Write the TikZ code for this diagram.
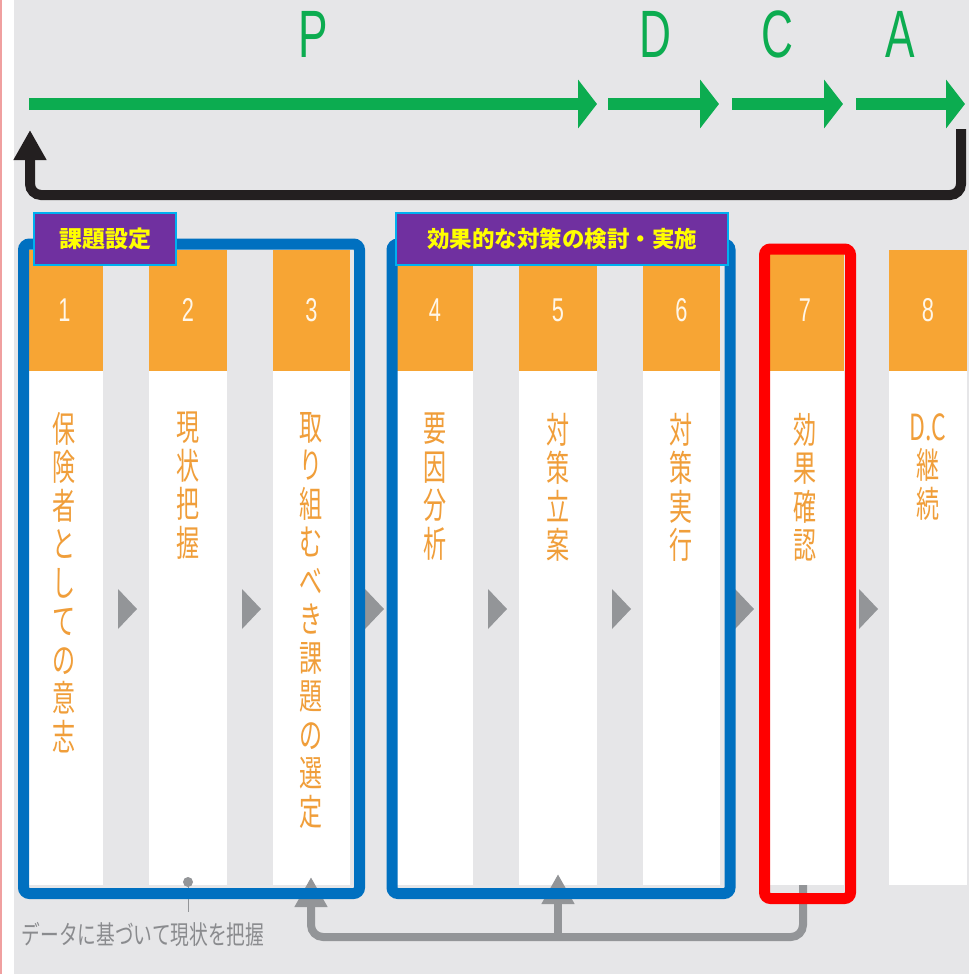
\documentclass[tikz,border=0pt]{standalone}
\usepackage{fontspec}
\usetikzlibrary{arrows.meta}
\newfontfamily\cjk{Noto Sans CJK JP}
\newfontfamily\cjkn[FakeStretch=0.64]{Noto Sans CJK JP}
\newfontfamily\cjkc[FakeStretch=0.72]{Noto Sans CJK JP}
\newfontfamily\latn[FakeStretch=0.66]{Liberation Sans}
\definecolor{bg}{RGB}{230,230,232}
\definecolor{grn}{RGB}{12,172,80}
\definecolor{blk}{RGB}{35,31,32}
\definecolor{orng}{RGB}{247,165,52}
\definecolor{otxt}{RGB}{240,158,58}
\definecolor{gry}{RGB}{147,149,152}
\definecolor{gtxt}{RGB}{138,139,142}
\definecolor{blu}{RGB}{0,112,192}
\definecolor{prp}{RGB}{112,48,160}
\definecolor{cyn}{RGB}{0,176,240}
\definecolor{ylw}{RGB}{255,255,0}
\definecolor{cream}{RGB}{255,246,232}
\definecolor{pnk}{RGB}{240,160,160}
\tikzset{
  pdca/.style={text=grn, font=\latn\fontsize{67}{67}\selectfont, inner sep=0pt},
  greenarrow/.style={draw=grn, line width=12pt, -{Triangle[length=19pt,width=48pt]}},
  backarrow/.style={draw=blk, line width=10pt, rounded corners=11pt, -{Triangle[length=30pt,width=31pt]}},
  grayarrow/.style={draw=gry, line width=8pt, rounded corners=12pt, -{Triangle[length=30pt,width=31pt]}},
  numtext/.style={text=cream, font=\latn\fontsize{33}{33}\selectfont, inner sep=0pt},
  coltext/.style={text=otxt, font=\cjkn\fontsize{36}{38.5}\selectfont, align=center, inner sep=0pt, anchor=north},
  groupbox/.style={draw=blu, line width=11pt, rounded corners=6pt},
  checkbox/.style={draw=red, line width=11pt, rounded corners=6pt},
  grouplabel/.style={fill=prp, draw=cyn, line width=2pt, text=ylw, inner sep=0pt, font=\cjk\bfseries\fontsize{23}{23}\selectfont},
  chev/.style={fill=gry},
  note/.style={text=gtxt, font=\cjkc\fontsize{26}{26}\selectfont, inner sep=0pt}
}
\begin{document}
\begin{tikzpicture}[x=1pt,y=-1pt]
\useasboundingbox (0,0) rectangle (969,974);
\fill[bg] (0,0) rectangle (969,974);
\fill[white] (2,0) rectangle (14,974);
\fill[pnk] (0,0) rectangle (2,974);

% PDCA letters
\node[pdca] (P) at (313,34) {P};
\node[pdca] (D) at (655,34) {D};
\node[pdca] (C) at (777,34) {C};
\node[pdca] (A) at (900,34) {A};

% green arrows
\coordinate (g1s) at (29,104);  \coordinate (g1e) at (597,104);
\coordinate (g2s) at (608,104); \coordinate (g2e) at (719,104);
\coordinate (g3s) at (732,104); \coordinate (g3e) at (843,104);
\coordinate (g4s) at (856,104); \coordinate (g4e) at (965,104);
\draw[greenarrow] (g1s) -- (g1e);
\draw[greenarrow] (g2s) -- (g2e);
\draw[greenarrow] (g3s) -- (g3e);
\draw[greenarrow] (g4s) -- (g4e);

% black return arrow
\coordinate (bs) at (961,129);
\coordinate (be) at (30,130);
\draw[backarrow] (bs) -- (961,195) -- (30,195) -- (be);

% columns
\foreach \l/\r [count=\i] in {26/103,149/227,273/350,397/473,519/597,643/720,766/844,889/967} {
  \fill[white] (\l,370) rectangle (\r,885);
  \fill[orng] (\l,250) rectangle (\r,371);
  \node[numtext] (n\i) at ({(\l+\r)/2},310) {\i};
}

% chevrons
\foreach \r in {103,227,350,473,597,720,844} {
  \fill[chev] (\r+15,589) -- (\r+34,609) -- (\r+15,629) -- cycle;
}

% column texts
\node[coltext] (t1) at (64.5,412) {保\\険\\者\\と\\し\\て\\の\\意\\志};
\node[coltext] (t2) at (188,412) {現\\状\\把\\握};
\node[coltext] (t3) at (311.5,412) {取\\り\\組\\む\\べ\\き\\課\\題\\の\\選\\定};
\node[coltext] (t4) at (435,413) {要\\因\\分\\析};
\node[coltext] (t5) at (558,413) {対\\策\\立\\案};
\node[coltext] (t6) at (681.5,413) {対\\策\\実\\行};
\node[coltext] (t7) at (805,413) {効\\果\\確\\認};
\node[coltext] (t8) at (928,413) {D.C\\継\\続};

% gray feedback arrows
\coordinate (fs) at (803,885);
\coordinate (f3) at (311,877);
\coordinate (fj) at (558,937);
\coordinate (f5) at (558,874);
\draw[grayarrow] (fs) -- (803,937) -- (311,937) -- (f3);
\draw[grayarrow, rounded corners=0pt] (fj) -- (f5);

% data note
\fill[gry] (188,882) circle (5pt);
\coordinate (dot) at (188,882);
\coordinate (dotend) at (188,912);
\draw[gry, line width=1pt] (dot) -- (dotend);
\node[note] (nt) at (143,935) {データに基づいて現状を把握};

% group boxes
\draw[groupbox] (23.5,244) rectangle (359.5,893.5);
\draw[groupbox] (392,244) rectangle (730,893.5);
\draw[checkbox] (764.5,249) rectangle (850.5,898.5);

% labels
\node[grouplabel, minimum width=142pt, minimum height=52pt] (L1) at (105,239) {課題設定};
\node[grouplabel, minimum width=332pt, minimum height=52pt, font=\cjk\bfseries\fontsize{22.5}{22.5}\selectfont] (L2) at (562,239) {効果的な対策の検討・実施};
\end{tikzpicture}
\end{document}
